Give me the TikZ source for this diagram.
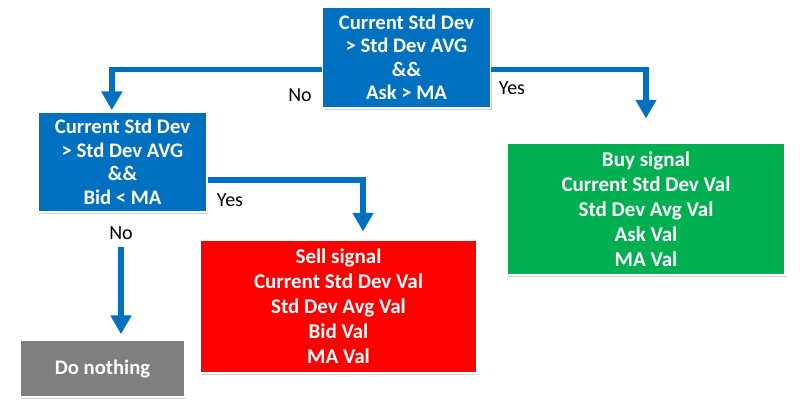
\documentclass[tikz,border=0pt]{standalone}
\usepackage{fontspec}
\setmainfont{Carlito}
\usetikzlibrary{arrows.meta,shadows}
\definecolor{boxblue}{RGB}{0,112,192}
\definecolor{boxred}{RGB}{255,0,0}
\definecolor{boxgreen}{RGB}{0,176,80}
\definecolor{boxgray}{RGB}{127,127,127}
\tikzset{
  box/.style={draw=white, line width=0.8pt, text=white, align=center, inner sep=0pt,
    font=\fontsize{15.5}{17.6}\selectfont\bfseries,
    drop shadow={opacity=0.35, shadow xshift=1pt, shadow yshift=-1.5pt}},
  arr/.style={draw=boxblue, line width=4.3pt, -{Triangle[width=15pt,length=14pt]}},
  lbl/.style={font=\fontsize{15}{17}\selectfont, text=black, inner sep=0pt}
}
\begin{document}
\begin{tikzpicture}[x=0.75pt,y=-0.75pt]
\useasboundingbox[fill=white] (0,0) rectangle (800,419);
\node[box, fill=boxblue, minimum width=126pt, minimum height=75.75pt] (top) at (406.5,57.5)
  {Current Std Dev\\ > Std Dev AVG\\ \&\&\\ Ask > MA};
\node[box, fill=boxblue, minimum width=126.75pt, minimum height=75pt] (left) at (122.5,162)
  {Current Std Dev\\ > Std Dev AVG\\ \&\&\\ Bid < MA};
\node[box, fill=boxred, minimum width=207.75pt, minimum height=99.75pt,
  font=\fontsize{15.75}{18.75}\selectfont\bfseries] (sell) at (338.5,306.5)
  {Sell signal\\ Current Std Dev Val\\ Std Dev Avg Val\\ Bid Val\\ MA Val};
\node[box, fill=boxgreen, minimum width=208.5pt, minimum height=99pt,
  font=\fontsize{15.75}{18.75}\selectfont\bfseries] (buy) at (646,209)
  {Buy signal\\ Current Std Dev Val\\ Std Dev Avg Val\\ Ask Val\\ MA Val};
\node[box, fill=boxgray, minimum width=123.75pt, minimum height=42.75pt,
  font=\fontsize{15.5}{18}\selectfont\bfseries] (nothing) at (102.5,368.5) {Do nothing};
\node[lbl] (lno1) at (300,95) {No};
\node[lbl] (lyes1) at (512,88) {Yes};
\node[lbl] (lyes2) at (230,200) {Yes};
\node[lbl] (lno2) at (121,233) {No};
\coordinate (nostart) at (121,247);
\draw[arr] ([yshift=-9pt]top.west) -| ([xshift=-8pt,yshift=1pt]left.north);
\draw[arr] ([yshift=-9pt]top.east) -| ([yshift=18pt]buy.north);
\draw[arr] ([yshift=-13.5pt]left.east) -| ([xshift=18.4pt,yshift=6pt]sell.north);
\draw[arr] (nostart) -- ([yshift=4pt]nostart |- nothing.north);
\end{tikzpicture}
\end{document}
